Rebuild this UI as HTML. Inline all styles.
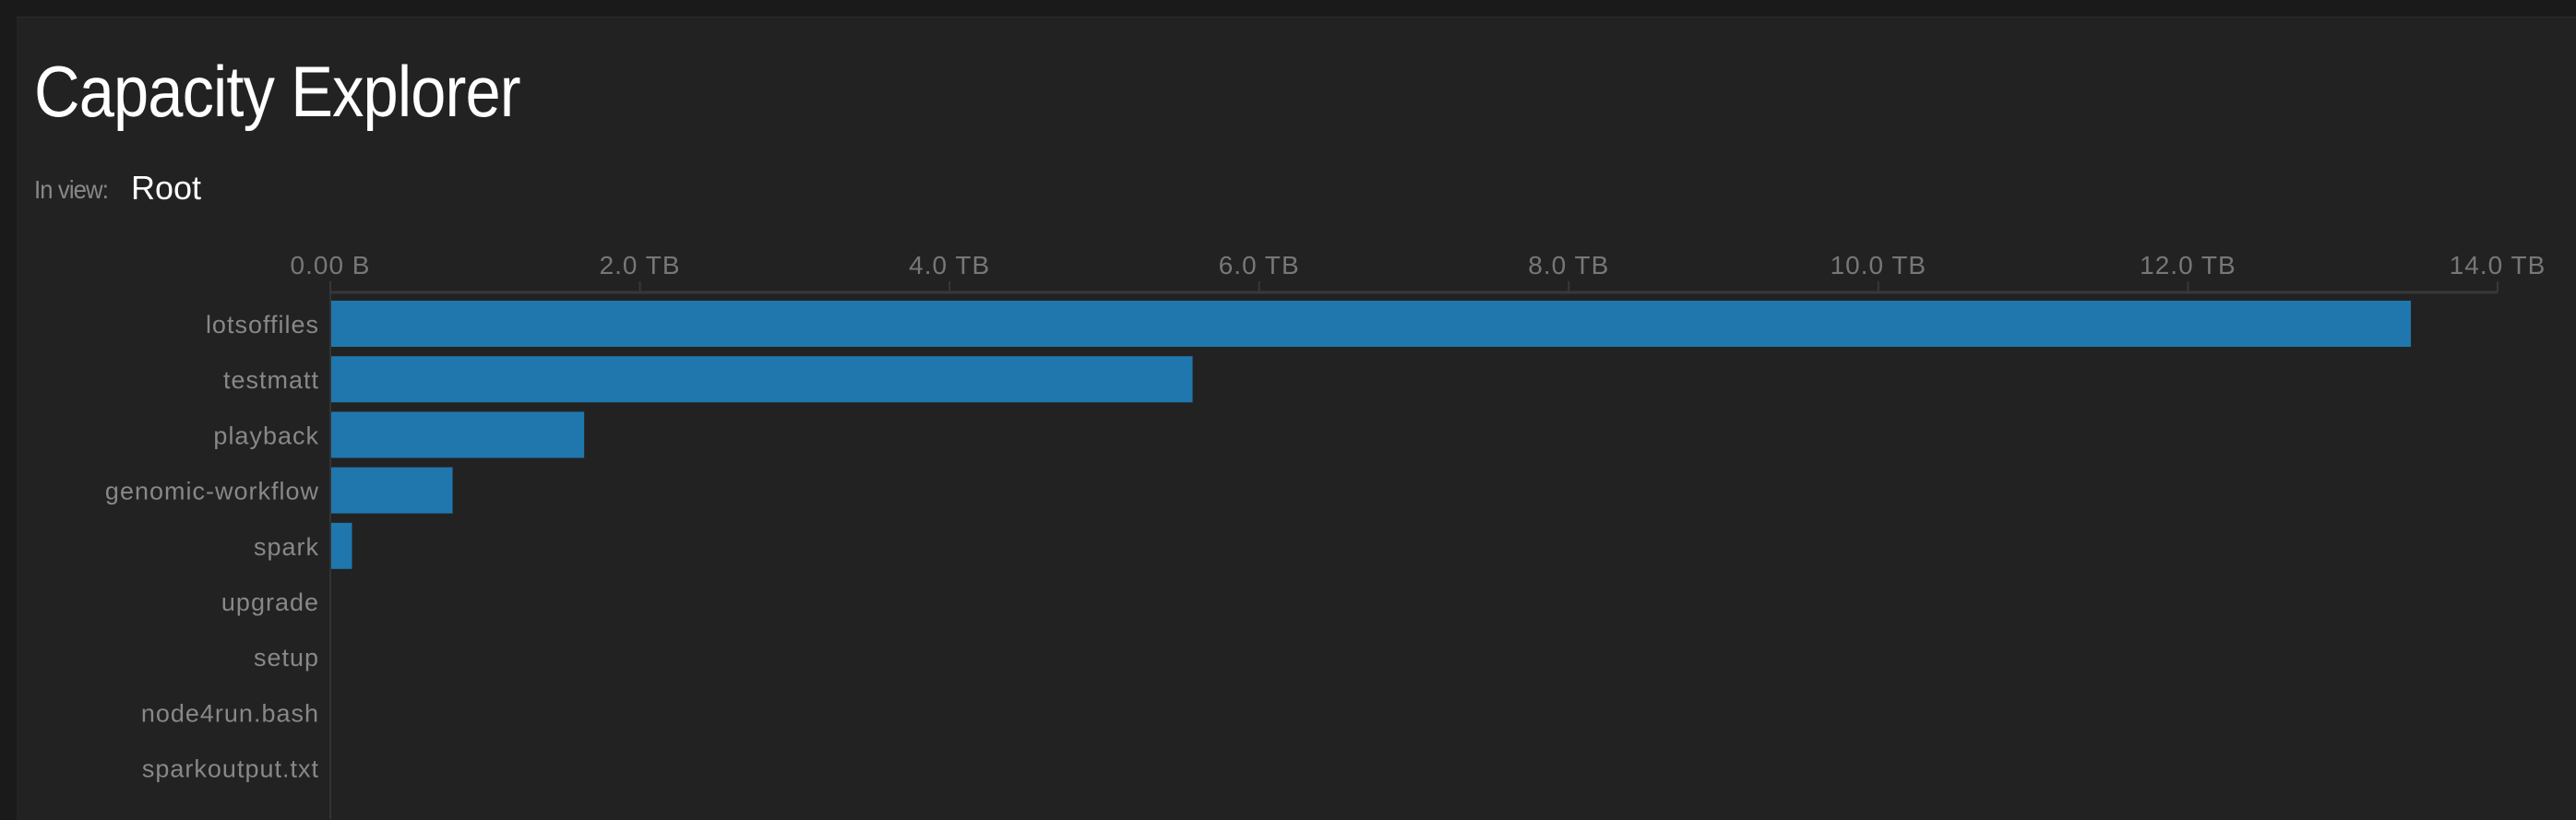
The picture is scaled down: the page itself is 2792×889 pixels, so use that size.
<!DOCTYPE html>
<html><head><meta charset="utf-8"><style>
html,body{margin:0;padding:0;background:#1a1a1a;width:2792px;height:888px;overflow:hidden;font-family:"Liberation Sans",sans-serif}
#panel{position:absolute;left:18px;top:18px;width:2774px;height:870px;background:#222222;border-top:1px solid #2c2c2c}
#title{position:absolute;left:37px;top:54px;font-size:78px;color:#fff;font-weight:normal;margin:0;line-height:90px;letter-spacing:-1px;transform:scaleX(0.88);transform-origin:0 0;white-space:nowrap}
#inview{position:absolute;left:37px;top:186px;font-size:28px;color:#888;line-height:40px;letter-spacing:-1px;transform:scaleX(0.92);transform-origin:0 0}
#root{position:absolute;left:142px;top:180px;font-size:36px;color:#fff;line-height:48px}
svg{position:absolute;left:0;top:0}
</style></head><body>
<div id="panel"></div>
<h1 id="title">Capacity Explorer</h1>
<div id="inview">In view:</div>
<div id="root">Root</div>
<svg id="chart" width="2792" height="888"></svg>
<script>
const categories=["lotsoffiles","testmatt","playback","genomic-workflow","spark","upgrade","setup","node4run.bash","sparkoutput.txt"];
const valuesTB=[13.44,5.57,1.64,0.79,0.14,0,0,0,0];
const tickValues=[0,2,4,6,8,10,12,14];
const tickLabels=["0.00 B","2.0 TB","4.0 TB","6.0 TB","8.0 TB","10.0 TB","12.0 TB","14.0 TB"];
const NS="http://www.w3.org/2000/svg";
const svg=document.getElementById('chart');
const x0=358,x1=2707,xmax=14,axisY=317,rowTop=321,step=60.2,barH=50;
const xs=v=>x0+(v/xmax)*(x1-x0);
const yc=i=>rowTop+30+i*step;
function mk(t,a){const e=document.createElementNS(NS,t);for(const k in a)e.setAttribute(k,a[k]);svg.appendChild(e);return e;}
let ax=mk('line',{x1:x0,y1:axisY,x2:x1,y2:axisY,stroke:'#383838','stroke-width':3});


let ay=mk('line',{x1:x0,y1:axisY,x2:x0,y2:888,stroke:'#333','stroke-width':2});


tickValues.forEach((v,i)=>{
 let t=mk('line',{x1:xs(v),y1:axisY-12,x2:xs(v),y2:axisY,stroke:'#383838','stroke-width':2});
 
 
 let l=mk('text',{x:xs(v),y:297,'text-anchor':'middle',fill:'#777','font-size':28,'letter-spacing':1,'font-family':'Liberation Sans, sans-serif'});
 l.textContent=tickLabels[i];
 
 
});
categories.forEach((c,i)=>{
 let l=mk('text',{x:346,y:yc(i)+10,'text-anchor':'end',fill:'#888','font-size':27,'letter-spacing':1,'font-family':'Liberation Sans, sans-serif'});
 l.textContent=c;
 
 
 if(valuesTB[i]>0){
  let b=mk('rect',{x:x0+1,y:yc(i)-barH/2,width:xs(valuesTB[i])-x0-1,height:barH,fill:'#1f77ae'});
  
  
 }
});
</script>
</body></html>
